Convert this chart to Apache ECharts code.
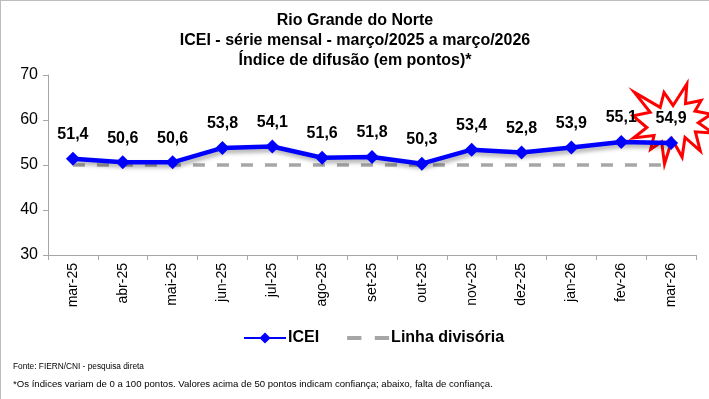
<!DOCTYPE html>
<html><head><meta charset="utf-8">
<script src="https://cdn.jsdelivr.net/npm/echarts@6/dist/echarts.min.js"></script>
<style>
html,body{margin:0;padding:0;background:#fff;}
#c{width:708px;height:398px;border-top:1px solid #bdbdbd;border-left:1px solid #bdbdbd;}
</style></head>
<body><div id="c"></div>
<script>
const categories = ['mar-25','abr-25','mai-25','jun-25','jul-25','ago-25','set-25','out-25','nov-25','dez-25','jan-26','fev-26','mar-26'];
const iceiValues = [51.4, 50.6, 50.6, 53.8, 54.1, 51.6, 51.8, 50.3, 53.4, 52.8, 53.9, 55.1, 54.9];
const dividingLine = [50,50,50,50,50,50,50,50,50,50,50,50,50];
const yTicks = {min:30, max:70, interval:10};

const starPath = 'path://M50,26.9L67.2,0L65.5,24.7L85.1,20.6L77.4,33.9L97.7,37.7L81.5,48.5L100,61.5L77.9,59.9L84,83.8L64.9,66.9L61.3,91.4L48.8,69.1L39.3,100L35.7,72.3L22,81.6L26.2,64.5L0.6,67.5L17.2,54.5L0,39.9L21.4,35.3L1.7,10.6L33.9,29.3L38.7,10.6Z';
const dashIcon = 'path://M0,0H15V4H0Z M29,0H44V4H29Z';

const chart = echarts.init(document.getElementById('c'));
const FONT = 'Liberation Sans, Arial, sans-serif';
chart.setOption({
  animation:false,
  textStyle:{fontFamily:FONT},
  title:{
    text:'Rio Grande do Norte\nICEI - série mensal - março/2025 a março/2026\nÍndice de difusão (em pontos)*',
    left:'center', top:5,
    textStyle:{fontSize:16, fontWeight:'bold', color:'#000', lineHeight:20, fontFamily:FONT}
  },
  grid:{left:47, right:13, top:74, bottom:144, containLabel:false},
  legend:{
    top:324, left:237, itemGap:28, itemWidth:42, itemHeight:14,
    textStyle:{fontSize:16, fontWeight:'bold', color:'#000', fontFamily:FONT, padding:[0,0,0,-3]},
    data:[
      {name:'ICEI'},
      {name:'Linha divisória', icon:dashIcon, itemStyle:{color:'#a6a6a6'}}
    ]
  },
  graphic:[
    {type:'text', left:12, top:362, style:{text:'Fonte: FIERN/CNI - pesquisa direta', fontSize:8.3, fill:'#000', fontFamily:FONT}},
    {type:'text', left:12, top:378, style:{text:'*Os índices variam de 0 a 100 pontos. Valores acima de 50 pontos indicam confiança; abaixo, falta de confiança.', fontSize:9.6, fill:'#000', fontFamily:FONT}}
  ],
  xAxis:{
    type:'category', data:categories, boundaryGap:true,
    axisLine:{lineStyle:{color:'#a6a6a6'}},
    axisTick:{show:true, alignWithLabel:false, length:5, lineStyle:{color:'#a6a6a6'}},
    axisLabel:{rotate:90, fontSize:14, color:'#000', margin:8, fontFamily:FONT}
  },
  yAxis:{
    type:'value', min:yTicks.min, max:yTicks.max, interval:yTicks.interval,
    axisLine:{show:true, lineStyle:{color:'#a6a6a6'}},
    axisTick:{show:true, length:5, lineStyle:{color:'#a6a6a6'}},
    splitLine:{show:false},
    axisLabel:{fontSize:16, color:'#000', margin:10, fontFamily:FONT}
  },
  series:[
    {
      name:'Linha divisória', type:'line', data:dividingLine, z:1,
      symbol:'none', silent:true,
      lineStyle:{color:'#a6a6a6', width:3.5, type:[12,12]},
      itemStyle:{color:'#a6a6a6'},
      markPoint:{
        silent:true, z:1,
        symbol:starPath, symbolSize:[80,80], symbolOffset:[2,-19], symbolKeepAspect:false,
        itemStyle:{color:'#fff', borderColor:'#ff0000', borderWidth:3},
        label:{show:false},
        data:[{coord:[categories[12], iceiValues[12]]}]
      }
    },
    {
      name:'ICEI', type:'line', data:iceiValues, z:5,
      symbol:'diamond', symbolSize:14,
      lineStyle:{color:'#0000ff', width:4.5, shadowColor:'rgba(0,0,0,0.35)', shadowBlur:4, shadowOffsetX:2, shadowOffsetY:3},
      itemStyle:{color:'#0000ff'},
      label:{show:true, position:'top', distance:9, fontSize:16, fontWeight:'bold', color:'#000', fontFamily:FONT,
        formatter:p=>p.value.toFixed(1).replace('.',',')}
    }
  ]
});
</script></body></html>
